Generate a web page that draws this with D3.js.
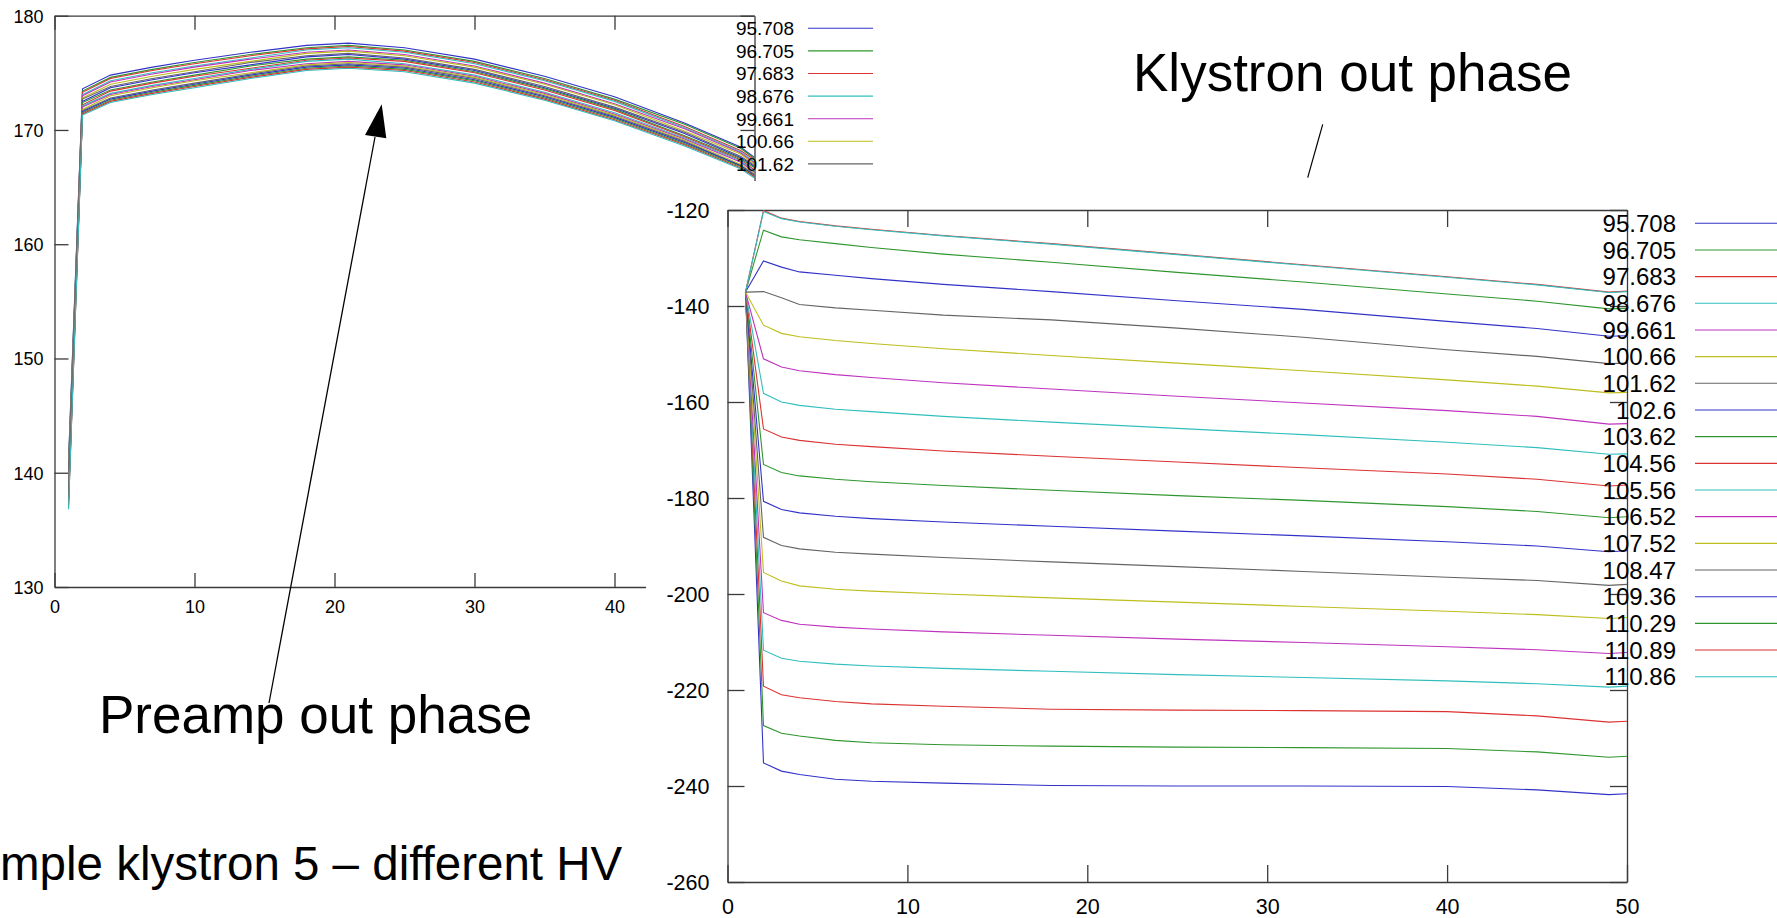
<!DOCTYPE html>
<html><head><meta charset="utf-8">
<script src="https://cdn.jsdelivr.net/npm/d3@7"></script>
<style>
html,body{margin:0;padding:0;background:#fff;overflow:hidden}
svg{display:block;font-family:"Liberation Sans",Arial,Helvetica,sans-serif}
</style></head><body>
<svg id="c" width="1777" height="918"></svg>
<script>
// ---------- data ----------
const hvLabels = ["95.708","96.705","97.683","98.676","99.661","100.66","101.62","102.6","103.62","104.56","105.56","106.52","107.52","108.47","109.36","110.29","110.89","110.86"];
const palette = ["#3232c8","#2f962f","#dc3232","#32bebe","#be32be","#bebe1e","#646464"];

// Preamp out phase (left chart)
const preampX = [1,2,4,7,10,14,18,21,25,30,35,40,45,49,50];
const pre_95708  = [141.0,173.6,174.8,175.5,176.1,176.8,177.4,177.6,177.2,176.2,174.7,172.9,170.6,168.5,167.6];
const pre_96705  = [140.7,173.4,174.6,175.3,175.9,176.6,177.2,177.4,177.0,176.0,174.5,172.7,170.5,168.4,167.5];
const pre_97683  = [140.4,173.3,174.5,175.2,175.8,176.5,177.1,177.3,176.9,175.9,174.4,172.6,170.3,168.2,167.4];
const pre_98676  = [140.2,173.1,174.3,175.0,175.6,176.3,177.0,177.2,176.8,175.8,174.3,172.5,170.2,168.1,167.2];
const pre_99661  = [139.9,173.0,174.2,174.9,175.5,176.2,176.8,177.0,176.6,175.6,174.1,172.3,170.1,168.0,167.1];
const pre_100_66 = [139.6,172.8,174.0,174.7,175.3,176.0,176.7,176.9,176.5,175.5,174.0,172.2,169.9,167.9,167.0];
const pre_101_62 = [139.3,172.7,173.8,174.5,175.1,175.9,176.5,176.7,176.3,175.3,173.8,172.0,169.8,167.7,166.9];
const pre_102_6  = [139.0,172.5,173.7,174.4,175.0,175.7,176.4,176.6,176.2,175.2,173.7,171.9,169.7,167.6,166.8];
const pre_103_62 = [138.8,172.4,173.5,174.2,174.8,175.6,176.2,176.4,176.1,175.1,173.6,171.8,169.5,167.5,166.7];
const pre_104_56 = [138.5,172.2,173.4,174.1,174.7,175.4,176.1,176.3,176.0,175.0,173.5,171.7,169.4,167.4,166.5];
const pre_105_56 = [138.3,172.1,173.2,173.9,174.5,175.3,176.0,176.2,175.8,174.8,173.3,171.5,169.3,167.3,166.4];
const pre_106_52 = [138.0,172.0,173.1,173.8,174.4,175.2,175.8,176.0,175.7,174.7,173.2,171.4,169.2,167.2,166.3];
const pre_107_52 = [137.8,171.8,173.0,173.7,174.3,175.0,175.7,175.9,175.6,174.6,173.1,171.3,169.1,167.0,166.2];
const pre_108_47 = [137.6,171.7,172.8,173.5,174.1,174.9,175.6,175.8,175.5,174.5,173.0,171.2,169.0,166.9,166.1];
const pre_109_36 = [137.4,171.6,172.7,173.4,174.0,174.8,175.5,175.7,175.4,174.4,172.9,171.1,168.9,166.9,166.0];
const pre_110_29 = [137.1,171.5,172.6,173.3,173.9,174.7,175.4,175.6,175.3,174.3,172.8,171.0,168.8,166.8,165.9];
const pre_110_89 = [136.9,171.4,172.5,173.2,173.8,174.6,175.3,175.5,175.2,174.2,172.7,170.9,168.7,166.7,165.9];
const pre_110_86 = [136.8,171.3,172.4,173.1,173.7,174.5,175.2,175.4,175.1,174.1,172.6,170.8,168.6,166.6,165.8];
const preampSeries = [pre_95708,pre_96705,pre_97683,pre_98676,pre_99661,pre_100_66,pre_101_62,pre_102_6,pre_103_62,pre_104_56,pre_105_56,pre_106_52,pre_107_52,pre_108_47,pre_109_36,pre_110_29,pre_110_89,pre_110_86];
const preampYTicks = [130,140,150,160,170,180];
const preampXTicks = [0,10,20,30,40];

// Klystron out phase (right chart)
const klyX = [1,2,3,4,6,8,12,18,25,32,40,45,49,50];
const kly_95708  = [-137.1,-235.2,-236.9,-237.6,-238.6,-239.0,-239.4,-239.9,-240.0,-240.0,-240.1,-240.8,-241.8,-241.6];
const kly_96705  = [-137.1,-227.4,-229.0,-229.6,-230.5,-231.0,-231.4,-231.7,-231.9,-232.0,-232.2,-232.9,-234.0,-233.8];
const kly_97683  = [-137.1,-219.2,-221.0,-221.6,-222.4,-222.9,-223.4,-224.0,-224.2,-224.3,-224.5,-225.4,-226.7,-226.5];
const kly_98676  = [-137.1,-211.7,-213.4,-214.0,-214.6,-215.0,-215.5,-216.1,-216.8,-217.4,-218.1,-218.7,-219.4,-219.2];
const kly_99661  = [-137.1,-203.9,-205.5,-206.3,-206.9,-207.3,-207.9,-208.6,-209.4,-210.1,-211.0,-211.6,-212.4,-212.2];
const kly_100_66 = [-137.1,-195.5,-197.3,-198.3,-199.0,-199.4,-200.0,-200.8,-201.7,-202.6,-203.6,-204.3,-205.1,-204.9];
const kly_101_62 = [-137.1,-188.2,-189.9,-190.6,-191.3,-191.7,-192.4,-193.3,-194.3,-195.3,-196.5,-197.2,-198.2,-198.0];
const kly_102_6  = [-137.1,-180.7,-182.4,-183.1,-183.8,-184.3,-185.0,-185.9,-186.9,-187.9,-189.1,-190.0,-191.2,-191.0];
const kly_103_62 = [-137.1,-173.0,-174.7,-175.4,-176.1,-176.6,-177.4,-178.4,-179.5,-180.5,-181.8,-182.8,-184.1,-183.9];
const kly_104_56 = [-137.1,-165.6,-167.3,-168.0,-168.8,-169.3,-170.2,-171.3,-172.5,-173.7,-175.0,-176.1,-177.5,-177.3];
const kly_105_56 = [-137.1,-158.2,-160.0,-160.7,-161.5,-162.0,-163.0,-164.2,-165.5,-166.8,-168.4,-169.5,-170.9,-170.8];
const kly_106_52 = [-137.1,-151.0,-152.7,-153.5,-154.3,-154.9,-156.0,-157.3,-158.8,-160.2,-161.8,-163.0,-164.6,-164.5];
const kly_107_52 = [-137.1,-144.0,-145.7,-146.4,-147.2,-147.8,-148.9,-150.3,-151.9,-153.5,-155.4,-156.7,-158.1,-158.0];
const kly_108_47 = [-137.1,-137.0,-138.3,-139.7,-140.4,-140.9,-141.9,-142.9,-144.6,-146.5,-149.1,-150.5,-152.0,-151.9];
const kly_109_36 = [-137.1,-130.6,-131.9,-132.9,-133.6,-134.3,-135.5,-137.0,-138.9,-140.7,-143.2,-144.7,-146.3,-146.2];
const kly_110_29 = [-137.1,-124.2,-125.6,-126.2,-127.0,-127.8,-129.2,-130.9,-133.0,-135.0,-137.5,-139.0,-140.6,-140.5];
const kly_110_89 = [-137.1,-120.1,-121.7,-122.4,-123.3,-124.0,-125.3,-127.0,-129.2,-131.4,-133.9,-135.5,-137.1,-136.9];
const kly_110_86 = [-137.1,-120.3,-121.8,-122.5,-123.4,-124.1,-125.4,-127.1,-129.3,-131.5,-134.0,-135.6,-137.2,-137.0];
const klySeries = [kly_95708,kly_96705,kly_97683,kly_98676,kly_99661,kly_100_66,kly_101_62,kly_102_6,kly_103_62,kly_104_56,kly_105_56,kly_106_52,kly_107_52,kly_108_47,kly_109_36,kly_110_29,kly_110_89,kly_110_86];
const klyYTicks = [-260,-240,-220,-200,-180,-160,-140,-120];
const klyXTicks = [0,10,20,30,40,50];

// ---------- drawing ----------
const svg = d3.select("#c");
const frameColor = "#3a3a3a";
const colorOf = i => palette[i % palette.length];

function drawPanel(g, opt) {
  const {x, y, xTicks, yTicks, tick, fontSize, pad, xs, series, id} = opt;
  const [x0, x1] = x.range(), [y0, y1] = y.range(); // y0 bottom, y1 top
  g.append("clipPath").attr("id", id).append("rect")
    .attr("x", x0).attr("y", y1).attr("width", x1 - x0).attr("height", y0 - y1);
  const fmt = d => String(d);
  const ax = [
    g.append("g").attr("transform", `translate(${x0},0)`).call(d3.axisLeft(y).tickValues(yTicks).tickFormat(fmt).tickSize(-tick).tickSizeOuter(0).tickPadding(pad.y)),
    g.append("g").attr("transform", `translate(0,${y0})`).call(d3.axisBottom(x).tickValues(xTicks).tickFormat(fmt).tickSize(-tick).tickSizeOuter(0).tickPadding(pad.x)),
    g.append("g").attr("transform", `translate(${x1},0)`).call(d3.axisRight(y).tickValues(yTicks).tickFormat("").tickSize(-tick).tickSizeOuter(0)),
    g.append("g").attr("transform", `translate(0,${y1})`).call(d3.axisTop(x).tickValues(xTicks).tickFormat("").tickSize(-tick).tickSizeOuter(0))
  ];
  ax.forEach(a => {
    a.select(".domain").attr("stroke", frameColor).attr("stroke-width", 1.3);
    a.selectAll(".tick line").attr("stroke", frameColor).attr("stroke-width", 1.3);
    a.selectAll("text").attr("fill", "#000").attr("font-size", fontSize)
      .attr("font-family", '"Liberation Sans",Arial,sans-serif');
  });
  const line = d3.line().x((d, j) => x(xs[j])).y(d => y(d));
  g.append("g").attr("clip-path", `url(#${id})`)
    .selectAll("path").data(series).join("path")
    .attr("d", line).attr("fill", "none")
    .attr("stroke", (d, i) => colorOf(i)).attr("stroke-width", 1.1);
  return ax;
}

// Left chart: Preamp out phase
const lx = d3.scaleLinear().domain([0, 50]).range([54.5, 754.5]);
const ly = d3.scaleLinear().domain([130, 180]).range([587, 15.7]);
const left = svg.append("g");
const lax = drawPanel(left, {x: lx, y: ly, xTicks: preampXTicks, yTicks: preampYTicks, tick: 14, fontSize: 18, pad: {x: 13, y: 11}, xs: preampX, series: preampSeries, id: "clipL"});
lax[0].selectAll("text").attr("dy", "0.36em");

// Left legend (visible entries)
const lLeg = left.append("g").selectAll("g").data(hvLabels.slice(0, 7)).join("g")
  .attr("transform", (d, i) => `translate(0,${28.3 + 22.6 * i})`);
lLeg.append("text").attr("x", 794).attr("dy", "0.36em").attr("text-anchor", "end")
  .attr("font-size", 19).text(d => d);
lLeg.append("line").attr("x1", 808).attr("x2", 873).attr("stroke", (d, i) => colorOf(i)).attr("stroke-width", 1.1);

// Arrow annotation for preamp
svg.append("line").attr("x1", 269).attr("y1", 703).attr("x2", 375).attr("y2", 137)
  .attr("stroke", "#000").attr("stroke-width", 1.3);
svg.append("path").attr("d", "M381.7,104.3 L365,135 L386.3,138.3 Z").attr("fill", "#000");

svg.append("text").attr("x", 99).attr("y", 733).attr("font-size", 53).text("Preamp out phase");
svg.append("text").attr("x", 0).attr("y", 880).attr("font-size", 47.5).text("mple klystron 5 – different HV");

// Right chart (pasted over with white background)
svg.append("rect").attr("x", 646).attr("y", 181).attr("width", 1777 - 646).attr("height", 918 - 181).attr("fill", "#fff");
const rx = d3.scaleLinear().domain([0, 50]).range([727.5, 1627]);
const ry = d3.scaleLinear().domain([-260, -120]).range([882, 210]);
const right = svg.append("g");
const rax = drawPanel(right, {x: rx, y: ry, xTicks: klyXTicks, yTicks: klyYTicks, tick: 17, fontSize: 21.5, pad: {x: 17, y: 18}, xs: klyX, series: klySeries, id: "clipR"});
rax[0].selectAll("text").attr("dy", "0.36em");

const rLeg = right.append("g").selectAll("g").data(hvLabels).join("g")
  .attr("transform", (d, i) => `translate(0,${223.3 + 26.67 * i})`);
rLeg.append("line").attr("x1", 1695).attr("x2", 1790).attr("stroke", (d, i) => colorOf(i)).attr("stroke-width", 1.1);
rLeg.append("text").attr("x", 1676).attr("dy", "0.36em").attr("text-anchor", "end")
  .attr("font-size", 24).text(d => d);

svg.append("text").attr("x", 1133).attr("y", 91).attr("font-size", 53).text("Klystron out phase");
svg.append("line").attr("x1", 1322.7).attr("y1", 124.3).attr("x2", 1307.7).attr("y2", 177.7)
  .attr("stroke", "#000").attr("stroke-width", 1.2);
</script>
</body></html>
